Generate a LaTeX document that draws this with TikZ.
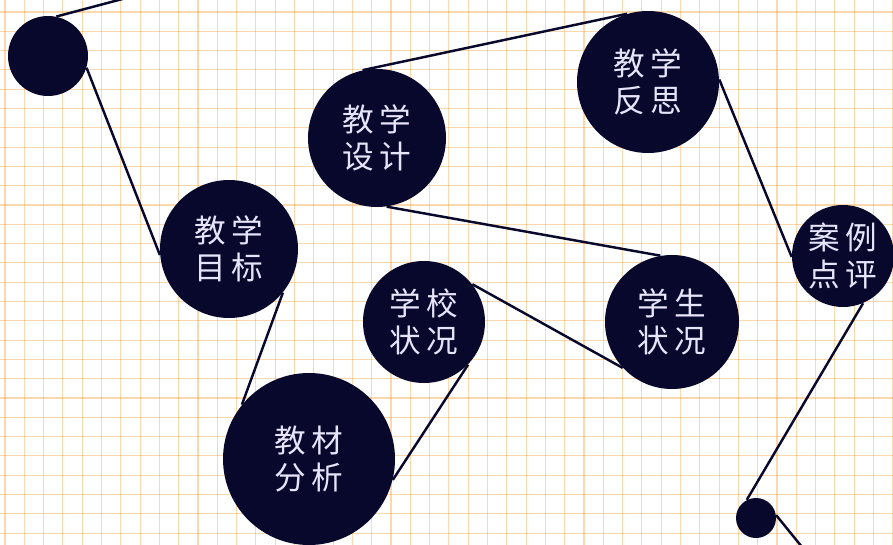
\documentclass[tikz,border=0pt]{standalone}
\usepackage{fontspec}
\newfontfamily\cjk{Noto Sans CJK SC}
\usetikzlibrary{calc}

\definecolor{ink}{RGB}{8,8,44}
\definecolor{paper}{RGB}{245,155,40}
\definecolor{glyph}{RGB}{230,228,250}

\newcommand{\duo}[4]{#1\kern1.1mm#2\\#3\kern1.1mm#4}

\begin{document}
\begin{tikzpicture}[x=0.2mm,y=-0.2mm,
   elt/.style={circle,fill=ink,inner sep=0pt,minimum size=#1,text=glyph,align=center,
               font=\cjk\fontsize{18}{21}\selectfont},
   link/.style={draw=ink,line width=1.4pt},
   gridline/.style={draw=paper,opacity=0.38,line width=0.6pt}]
   \useasboundingbox (0,0) rectangle (893,545);
   \fill[white] (0,0) rectangle (893,545);
   % squared paper
   \foreach \i in {0,...,46} \draw[gridline] ({5+19.3*\i},0) -- ({5+19.3*\i},545);
   \foreach \j in {0,...,28} \draw[gridline] (0,{12+19.3*\j}) -- (893,{12+19.3*\j});
   % circles
   \path   (48,56)   node (dot)      [elt=16mm]   {}
           (377,138) node (design)   [elt=27.6mm] {\duo{教}{学}{设}{计}}
           (648,82)  node (reflect)  [elt=28.4mm] {\duo{教}{学}{反}{思}}
           (843,256) node (review)   [elt=20.4mm] {\duo{案}{例}{点}{评}}
           (229,249) node (goal)     [elt=27.6mm] {\duo{教}{学}{目}{标}}
           (424,322) node (school)   [elt=24.4mm] {\duo{学}{校}{状}{况}}
           (672,322) node (student)  [elt=26.8mm] {\duo{学}{生}{状}{况}}
           (309,459) node (material) [elt=34.4mm] {\duo{教}{材}{分}{析}}
           (756,518) node (tail)     [elt=8mm]    {};
   \coordinate (start)  at (130,-3);
   \coordinate (finish) at (815,563);
   % connectors
   \draw[link] (start) -- (dot.78);
   \draw[link] (dot.-17) -- (goal.185);
   \draw[link] (goal.-39) -- (material.141);
   \draw[link] (material.-14) -- (school.-44);
   \draw[link] (school.38) -- (student.-137);
   \draw[link] (student.100) -- (design.-82);
   \draw[link] (design.102) -- (reflect.107);
   \draw[link] (reflect.2) -- (review.181);
   \draw[link] (review.-67) -- (tail.117);
   \draw[link] (tail.8) -- (finish);
\end{tikzpicture}
\end{document}
